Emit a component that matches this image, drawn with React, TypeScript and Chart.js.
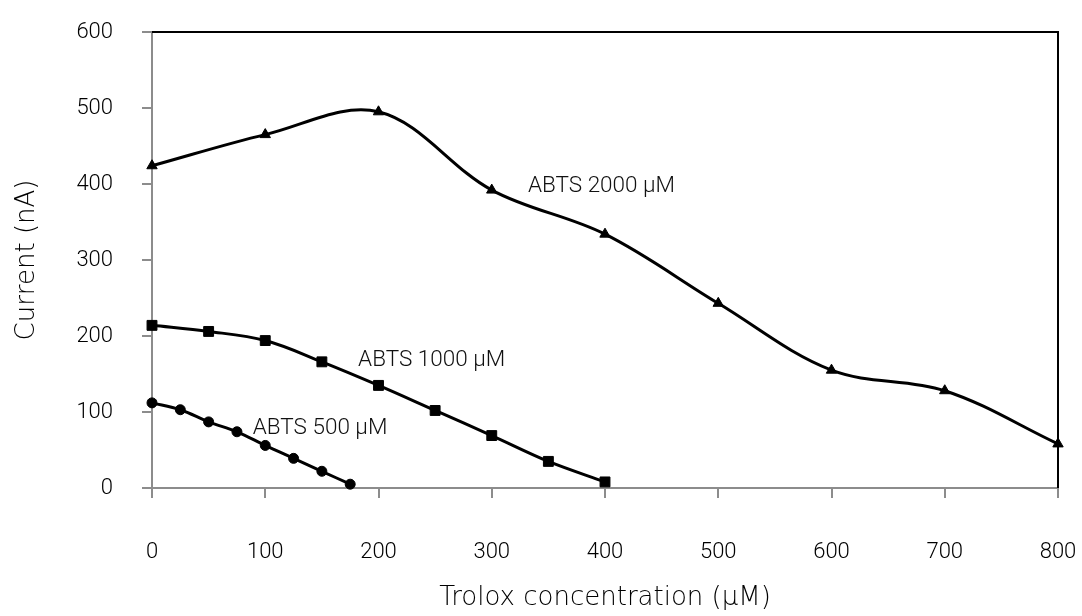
import React, { useEffect, useRef } from "react";
import { Chart, registerables } from "chart.js";

Chart.register(...registerables);

const xTicks = [0, 100, 200, 300, 400, 500, 600, 700, 800];
const yTicks = [0, 100, 200, 300, 400, 500, 600];

const x500 = [0, 25, 50, 75, 100, 125, 150, 175];
const y500 = [112, 103, 87, 74, 56, 39, 22, 5];

const x1000 = [0, 50, 100, 150, 200, 250, 300, 350, 400];
const y1000 = [214, 206, 194, 166, 135, 102, 69, 35, 8];

const x2000 = [0, 100, 200, 300, 400, 500, 600, 700, 800];
const y2000 = [424, 465, 495, 392, 334, 243, 155, 128, 58];

const seriesLabels = ["ABTS 500 µM", "ABTS 1000 µM", "ABTS 2000 µM"];
const labelAnchorX = [89, 182, 332];
const labelAnchorY = [78, 168, 397];

const xTitle = "Trolox concentration (µM)";
const yTitle = "Current (nA)";

const toPoints = (xs: number[], ys: number[]) => xs.map((x, i) => ({ x, y: ys[i] }));

const framePlugin = {
  id: "frame",
  beforeDatasetsDraw(chart: any) {
    const { ctx, chartArea } = chart;
    ctx.save();
    ctx.strokeStyle = "#000";
    ctx.lineWidth = 2;
    ctx.beginPath();
    ctx.moveTo(chartArea.left, chartArea.top);
    ctx.lineTo(chartArea.right, chartArea.top);
    ctx.lineTo(chartArea.right, chartArea.bottom);
    ctx.stroke();
    ctx.restore();
  },
};

const labelPlugin = {
  id: "seriesLabels",
  afterDatasetsDraw(chart: any) {
    const { ctx, scales } = chart;
    ctx.save();
    ctx.fillStyle = "#111";
    ctx.font = "300 22.5px Roboto, 'Liberation Sans', sans-serif";
    ctx.textAlign = "left";
    ctx.textBaseline = "middle";
    seriesLabels.forEach((t, i) => {
      ctx.fillText(t, scales.x.getPixelForValue(labelAnchorX[i]), scales.y.getPixelForValue(labelAnchorY[i]));
    });
    ctx.restore();
  },
};

const noPad = (s: any) => {
  s.paddingLeft = 0;
  s.paddingRight = 0;
  s.paddingTop = 0;
  s.paddingBottom = 0;
};

export default function App() {
  const ref = useRef<HTMLCanvasElement>(null);
  useEffect(() => {
    document.body.style.margin = "0";
    const canvas = ref.current!;
    const tickFont = { family: "Roboto, 'Liberation Sans', sans-serif", size: 22, weight: "300" as any };
    const titleFont = { family: "'DejaVu Sans', sans-serif", size: 26, weight: "200" as any };
    const common = {
      borderColor: "#000",
      backgroundColor: "#000",
      pointBackgroundColor: "#000",
      pointBorderColor: "#000",
      borderWidth: 3,
      tension: 0.35,
      clip: false as any,
      fill: false,
    };
    const chart = new Chart(canvas, {
      type: "line",
      data: {
        datasets: [
          { ...common, label: seriesLabels[0], data: toPoints(x500, y500), pointStyle: "circle", pointRadius: 5 },
          { ...common, label: seriesLabels[1], data: toPoints(x1000, y1000), pointStyle: "rect", pointRadius: 7 },
          { ...common, label: seriesLabels[2], data: toPoints(x2000, y2000), pointStyle: "triangle", pointRadius: 6 },
        ],
      },
      options: {
        animation: false,
        responsive: false,
        devicePixelRatio: 1,
        layout: { padding: { top: 32, right: 24, left: 0, bottom: 0 } },
        plugins: { legend: { display: false }, tooltip: { enabled: false } },
        elements: { point: { pointBorderWidth: 1 } as any },
        scales: {
          x: {
            type: "linear",
            min: 0,
            max: 800,
            afterBuildTicks: (s: any) => { s.ticks = xTicks.map((v) => ({ value: v })); },
            afterFit: (s: any) => { s.height = 128; noPad(s); },
            grid: { drawOnChartArea: false, drawTicks: true, tickLength: 10, color: "#8c8c8c", lineWidth: 2 },
            border: { color: "#8c8c8c", width: 2 },
            ticks: { font: tickFont, color: "#000", padding: 41, maxRotation: 0 },
            title: { display: true, text: xTitle, font: titleFont, color: "#000", padding: { top: 0, bottom: 2 } },
          },
          y: {
            type: "linear",
            min: 0,
            max: 600,
            afterBuildTicks: (s: any) => { s.ticks = yTicks.map((v) => ({ value: v })); },
            afterFit: (s: any) => { s.width = 152; noPad(s); },
            grid: { drawOnChartArea: false, drawTicks: true, tickLength: 10, color: "#8c8c8c", lineWidth: 2 },
            border: { color: "#8c8c8c", width: 2 },
            ticks: { font: tickFont, color: "#000", padding: 29 },
            title: { display: true, text: yTitle, font: titleFont, color: "#000", padding: { top: 12, bottom: 0 } },
          },
        },
      },
      plugins: [framePlugin, labelPlugin],
    });
    return () => chart.destroy();
  }, []);
  return (
    <div style={{ width: 1082, height: 616 }}>
      <canvas ref={ref} width={1082} height={616} />
    </div>
  );
}
